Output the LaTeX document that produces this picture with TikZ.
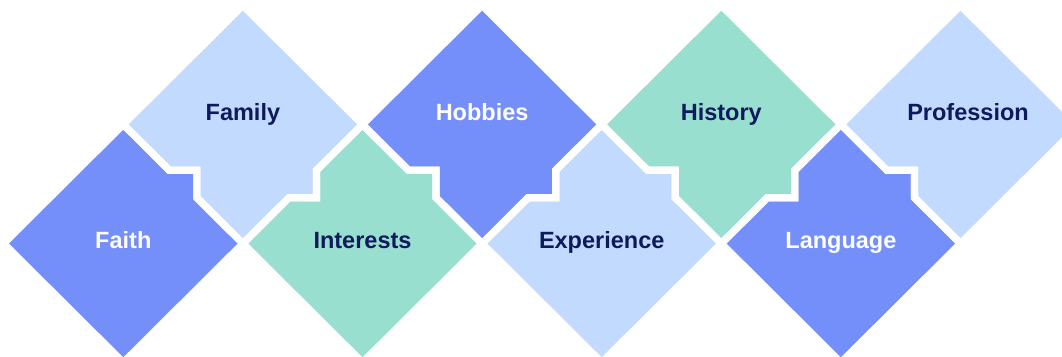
\documentclass[tikz,border=0pt]{standalone}
\usepackage{fontspec}
\setmainfont{Liberation Sans}
\definecolor{cblue}{HTML}{748EFA}
\definecolor{clight}{HTML}{C2DAFD}
\definecolor{cmint}{HTML}{99DFD0}
\definecolor{cnavy}{HTML}{0E1A5C}
\tikzset{
  gap/.style={draw=white, line width=7.2pt, line join=miter},
  lbl/.style={font=\bfseries\fontsize{23.5}{28}\selectfont, anchor=base, inner sep=0pt},
  darklbl/.style={lbl, text=cnavy},
  whitelbl/.style={lbl, text=white},
}
% lower piece centred at (#1,2): notch on upper-left edge, bump on upper-right edge
\newcommand\lowpiece[2]{\path[#2] ({#1-1},2) -- ({#1-0.615},1.615) -- ({#1-0.385},1.615) -- ({#1-0.385},1.385) -- (#1,1) -- ({#1+0.385},1.385) -- ({#1+0.615},1.385) -- ({#1+0.615},1.615) -- ({#1+1},2) -- (#1,3) -- cycle;}
% first lower piece: plain upper-left edge
\newcommand\firstpiece[1]{\path[#1] (0,2) -- (1,1) -- (1.385,1.385) -- (1.615,1.385) -- (1.615,1.615) -- (2,2) -- (1,3) -- cycle;}
% upper piece centred at (#1,1): bump on lower-right edge, notch on lower-left edge
\newcommand\highpiece[2]{\path[#2] ({#1-1},1) -- (#1,0) -- ({#1+1},1) -- ({#1+0.615},1.385) -- ({#1+0.615},1.615) -- ({#1+0.385},1.615) -- (#1,2) -- ({#1-0.385},1.615) -- ({#1-0.385},1.385) -- ({#1-0.615},1.385) -- cycle;}
% last upper piece: plain lower-right edge
\newcommand\lastpiece[1]{\path[#1] (7,1) -- (8,0) -- (9,1) -- (8,2) -- (7.615,1.615) -- (7.615,1.385) -- (7.385,1.385) -- cycle;}
\begin{document}
\begin{tikzpicture}[x=119.6pt, y=-119pt]
  \clip (-0.0309,-0.0462) rectangle (8.8487,2.9454);
  % fills
  \firstpiece{fill=cblue}
  \highpiece{2}{fill=clight}
  \lowpiece{3}{fill=cmint}
  \highpiece{4}{fill=cblue}
  \lowpiece{5}{fill=clight}
  \highpiece{6}{fill=cmint}
  \lowpiece{7}{fill=cblue}
  \lastpiece{fill=clight}
  % white gaps
  \firstpiece{gap}
  \highpiece{2}{gap}
  \lowpiece{3}{gap}
  \highpiece{4}{gap}
  \lowpiece{5}{gap}
  \highpiece{6}{gap}
  \lowpiece{7}{gap}
  \lastpiece{gap}
  % labels
  \node[whitelbl] (faith) at (1,2.044) {Faith};
  \node[darklbl] (family) at (2,0.968) {Family};
  \node[darklbl] (interests) at (3,2.044) {Interests};
  \node[whitelbl] (hobbies) at (4,0.968) {Hobbies};
  \node[darklbl] (experience) at (5,2.044) {Experience};
  \node[darklbl] (history) at (6,0.968) {History};
  \node[whitelbl] (language) at (7,2.044) {Language};
  \node[darklbl] (profession) at (8.063,0.968) {Profession};
\end{tikzpicture}
\end{document}
